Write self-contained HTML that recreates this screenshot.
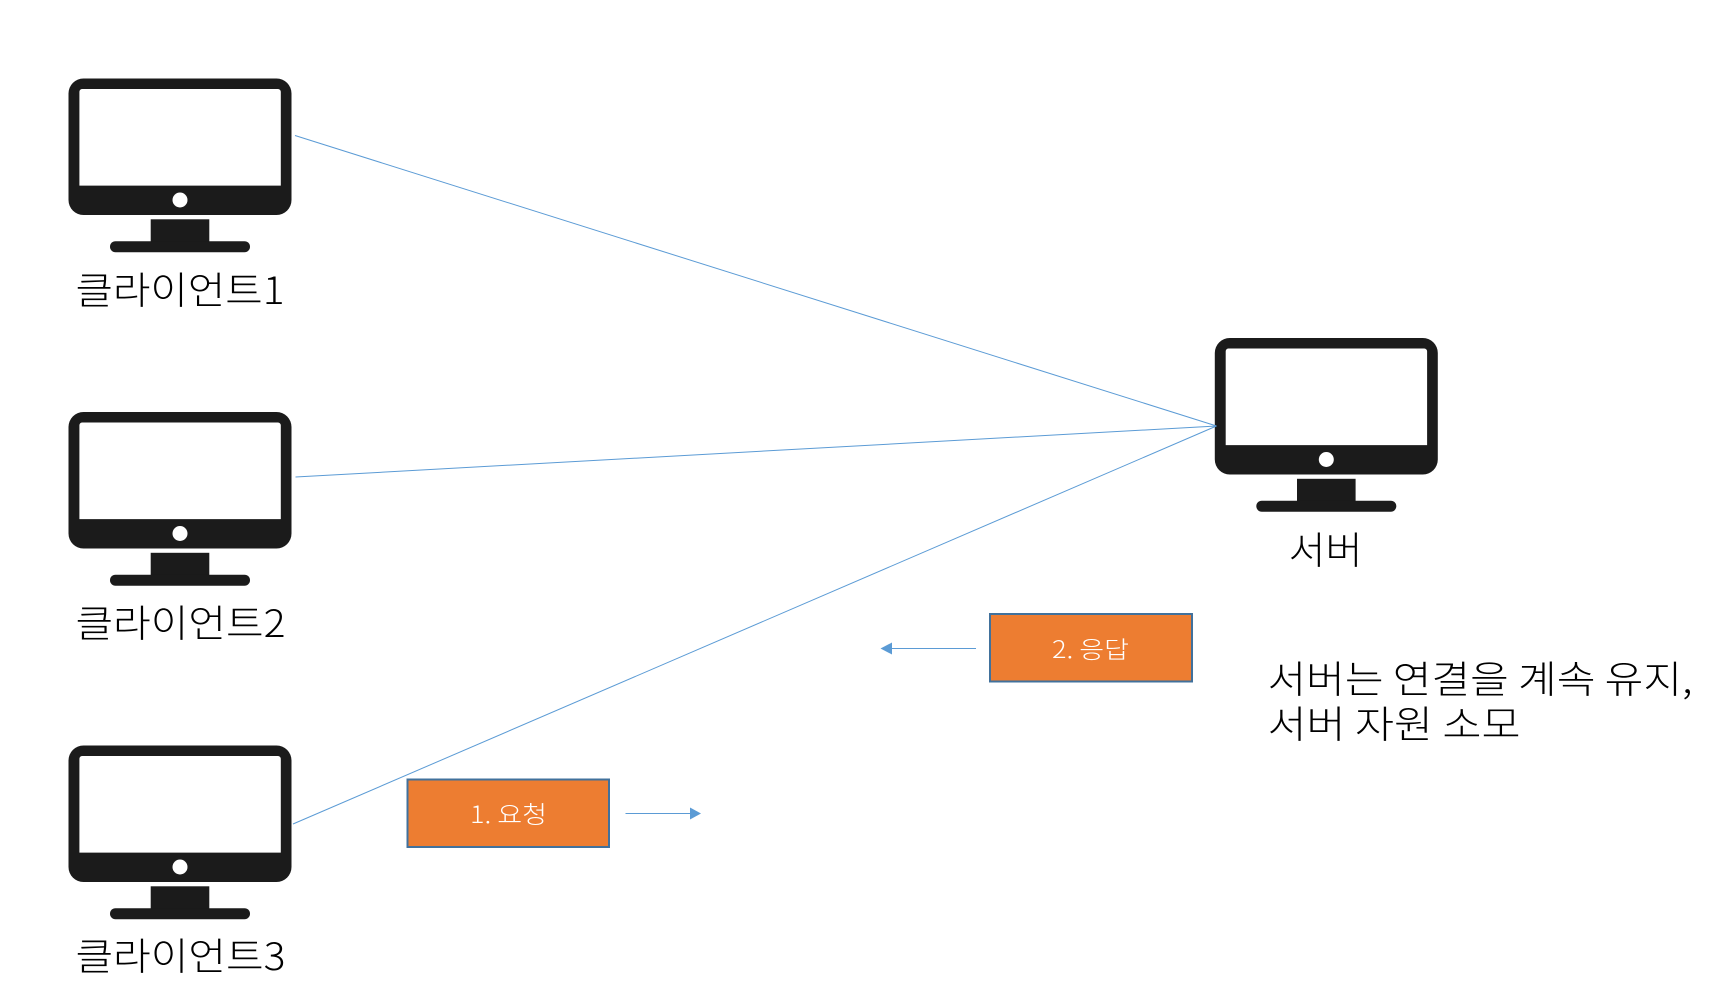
<!DOCTYPE html>
<html><head><meta charset="utf-8"><style>
html,body{margin:0;padding:0;background:#fff;width:1715px;height:1003px;overflow:hidden}
svg{display:block}
text{font-family:"Noto Sans CJK KR","Liberation Sans","NanumGothic",sans-serif;font-weight:300}
</style></head><body>
<svg width="1715" height="1003" viewBox="0 0 1715 1003" xmlns="http://www.w3.org/2000/svg">
<defs>
<g id="m">
<rect x="68.5" y="78.5" width="223" height="136.5" rx="15" fill="#1b1b1b"/>
<path d="M82 89H278a2.8 2.8 0 0 1 2.8 2.8V185.6H79.4V91.8A2.8 2.8 0 0 1 82 89Z" fill="#fff"/>
<circle cx="180" cy="200" r="7.5" fill="#fff"/>
<rect x="150.7" y="219.3" width="58.6" height="25" fill="#1b1b1b"/>
<rect x="110" y="241.2" width="140" height="11" rx="5.5" fill="#1b1b1b"/>
</g>
</defs>
<rect width="1715" height="1003" fill="#fff"/>
<use href="#m"/>
<use href="#m" y="333.5"/>
<use href="#m" y="667"/>
<use href="#m" x="1146.3" y="259.5"/>
<g stroke="#5B9BD5" stroke-width="1" fill="none">
<line x1="295" y1="135.5" x2="1221" y2="426" transform="translate(0,0)" style="display:none"/>
<line x1="295" y1="135.5" x2="1216.5" y2="426"/>
<line x1="295.5" y1="477" x2="1216.5" y2="426"/>
<line x1="293" y1="824" x2="1216.5" y2="426"/>
<line x1="625.5" y1="813.5" x2="692" y2="813.5"/>
<line x1="976" y1="648.5" x2="890" y2="648.5"/>
</g>
<path d="M690 807.5L701 813.5L690 819.5Z" fill="#5B9BD5"/>
<path d="M892 642.5L880.5 648.5L892 654.5Z" fill="#5B9BD5"/>
<rect x="407.5" y="779.5" width="201.5" height="67.5" fill="#ED7D31" stroke="#41719C" stroke-width="2"/>
<rect x="990" y="614" width="202" height="67.5" fill="#ED7D31" stroke="#41719C" stroke-width="2"/>
<text x="470" y="823" font-size="24" fill="#fff" textLength="77" lengthAdjust="spacingAndGlyphs">1. 요청</text>
<text x="1052" y="658" font-size="24" fill="#fff" textLength="77" lengthAdjust="spacingAndGlyphs">2. 응답</text>
<text x="75.5" y="304" font-size="38" fill="#000" textLength="209" lengthAdjust="spacingAndGlyphs">클라이언트1</text>
<text x="75.5" y="637" font-size="38" fill="#000" textLength="210" lengthAdjust="spacingAndGlyphs">클라이언트2</text>
<text x="75.5" y="970" font-size="38" fill="#000" textLength="210" lengthAdjust="spacingAndGlyphs">클라이언트3</text>
<text x="1288.5" y="564" font-size="38" fill="#000" textLength="74" lengthAdjust="spacingAndGlyphs">서버</text>
<text x="1267.5" y="693" font-size="38" fill="#000" textLength="425" lengthAdjust="spacingAndGlyphs">서버는 연결을 계속 유지,</text>
<text x="1267.5" y="738" font-size="38" fill="#000" textLength="253" lengthAdjust="spacingAndGlyphs">서버 자원 소모</text>
</svg>
</body></html>
